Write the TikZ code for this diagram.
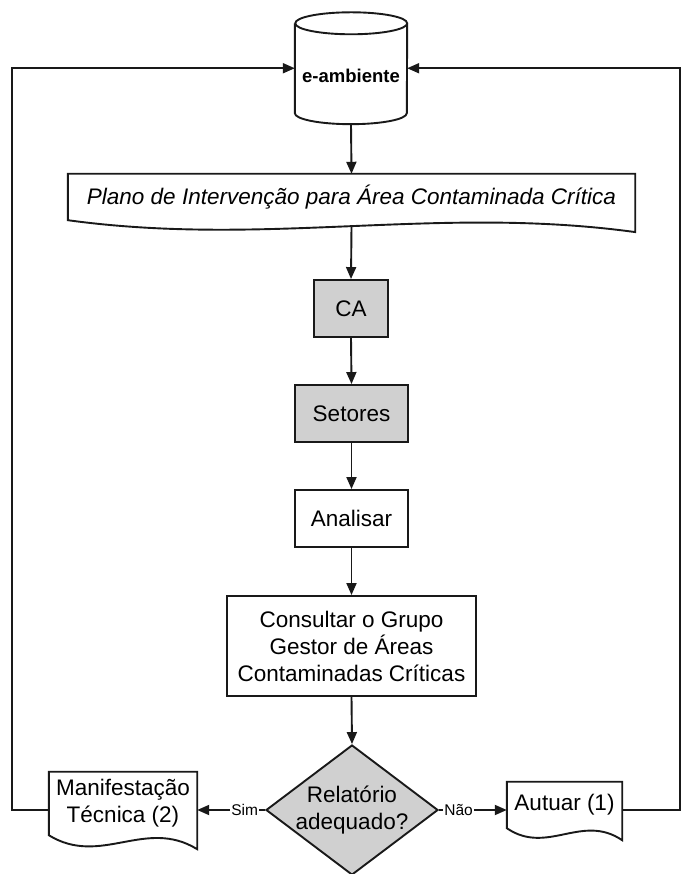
\documentclass[tikz,border=0pt]{standalone}
\usepackage{fontspec}
\setmainfont{Liberation Sans}
\usetikzlibrary{arrows.meta,calc,shapes.geometric}

\definecolor{boxgray}{RGB}{208,208,208}
\definecolor{inkline}{RGB}{25,25,25}

% document symbol: flat top, wavy bottom edge
\newcommand\wavydoc[2]{%
  \draw[outline]
    (#1.north west) -- (#1.north east) -- ([yshift={-14*#2}]#1.south east)
    .. controls ($(#1.south west)!0.65!(#1.south east)+(0,{18*#2})$)
           and ($(#1.south west)!0.35!(#1.south east)+(0,{-32*#2})$)
    .. (#1.south west) -- cycle;}

\begin{document}
\begin{tikzpicture}[x=1pt,y=1pt,
  outline/.style={draw=inkline,line width=1.9pt,line join=miter},
  txt/.style={font=\fontsize{22.5}{27}\selectfont,text=black,align=center,inner sep=0pt},
  procbox/.style={txt,outline,rectangle,minimum height=57pt},
  graybox/.style={procbox,fill=boxgray},
  docbox/.style={txt,rectangle,draw=none},
  flow/.style={draw=inkline,line width=1.9pt,-{Triangle[length=12pt,width=10pt]}},
  edgelabel/.style={font=\fontsize{15.5}{18}\selectfont,fill=white,inner sep=1pt,text=black}]

\fill[white] (0,0) rectangle (681,874);
\useasboundingbox (0,0) rectangle (681,874);

% database cylinder
\node[rectangle,minimum width=112pt,minimum height=111.5pt,inner sep=0pt] (db) at (351,805.75) {};
\draw[outline]
  ([yshift=-11pt]db.north west) -- ([yshift=11pt]db.south west)
  arc[start angle=180,end angle=360,x radius=56pt,y radius=11pt]
  -- ([yshift=-11pt]db.north east)
  arc[start angle=0,end angle=180,x radius=56pt,y radius=11pt];
\draw[outline] ([yshift=-11pt]db.north east)
  arc[start angle=0,end angle=-180,x radius=56pt,y radius=11pt];
\node[font=\fontsize{18.5}{22}\selectfont\bfseries,inner sep=0pt] (dbtext)
  at ([yshift=-8pt]db.center) {e-ambiente};

% plan document
\node[docbox,minimum width=567pt,minimum height=46pt,font=\fontsize{22.5}{27}\selectfont\itshape]
  (plano) at (351.5,677) {Plano de Intervenção para Área Contaminada Crítica};
\wavydoc{plano}{0.85}

% process steps
\node[graybox,minimum width=74pt] (ca) at (351,565.5) {CA};
\node[graybox,minimum width=113pt] (setores) at (351.5,460.5) {Setores};
\node[procbox,minimum width=113pt] (analisar) at (351.5,355.5) {Analisar};
\node[procbox,minimum width=249pt,minimum height=100pt] (consultar) at (351.5,228)
  {Consultar o Grupo\\Gestor de Áreas\\Contaminadas Críticas};

% decision
\node[diamond,outline,fill=boxgray,minimum width=172pt,minimum height=130pt,inner sep=0pt]
  (dec) at (352,64) {};
\node[txt] (dectext) at (dec.center) {Relatório\\adequado?};

% outcome documents
\node[docbox,minimum width=148pt,minimum height=63pt] (man) at (123,70.5)
  {Manifestação\\Técnica (2)};
\wavydoc{man}{1}
\node[docbox,minimum width=115pt,minimum height=46pt] (aut) at (564.5,69)
  {Autuar (1)};
\wavydoc{aut}{0.86}

% rails of the return loops
\coordinate (lrail) at (12,0);
\coordinate (rrail) at (680,0);

% main flow
\draw[flow] (db.south) -- (plano.north);
\draw[flow] ([yshift=-6pt]plano.south) -- (ca.north);
\draw[flow] (ca.south) -- (setores.north);
\draw[flow] (setores.south) -- (analisar.north);
\draw[flow] (analisar.south) -- (consultar.north);
\draw[flow] (consultar.south) -- (dec.north);

% decision branches
\draw[flow] (dec.west) -- node[edgelabel,pos=0.3] (simlbl) {Sim} (dec.west -| man.east);
\draw[flow] (dec.east) -- node[edgelabel,pos=0.29] (naolbl) {Não} (dec.east -| aut.west);

% return loops to the database
\draw[flow] (dec.west -| man.west) -| (lrail |- db.west) -- (db.west);
\draw[flow] (dec.east -| aut.east) -| (rrail |- db.east) -- (db.east);

\end{tikzpicture}
\end{document}
